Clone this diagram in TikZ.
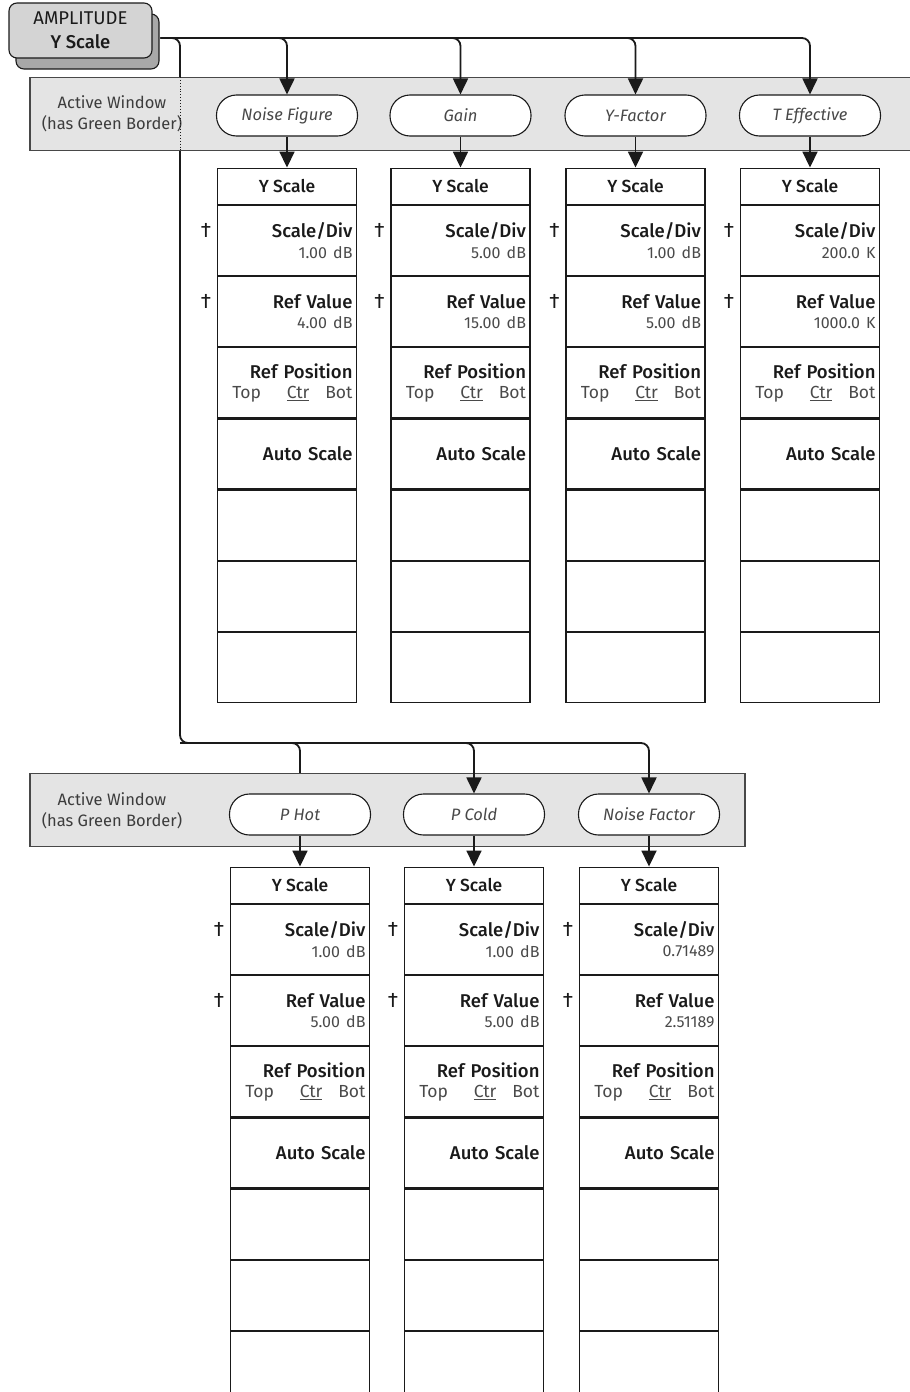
\documentclass[tikz,border=0pt]{standalone}
\usepackage{fontspec}
\setmainfont{Fira Sans}[BoldFont={Fira Sans Medium}]
\usetikzlibrary{arrows.meta,positioning,calc,shadows}
\definecolor{panelGray}{HTML}{E4E4E4}
\definecolor{keyGray}{HTML}{D4D4D4}
\definecolor{keyShade}{HTML}{A8A8A8}
\definecolor{inkBlack}{HTML}{1A1A1A}
\definecolor{valGray}{HTML}{4A4A4A}
\newcommand{\menuval}[1]{{\fontsize{16}{17}\selectfont\color{valGray}#1}}

\begin{document}
\begin{tikzpicture}[
  x=1pt, y=1pt,
  >={Triangle[length=16pt,width=15pt]},
  line width=1.3pt,
  every node/.style={inner sep=3pt, text=inkBlack},
  % --- Reusable styles -------------------------------------------------------
  hardkey/.style={               % front panel key with its grey side
    rectangle, rounded corners=8pt, draw=inkBlack, line width=1.1pt,
    fill=keyGray, minimum width=143pt, minimum height=55pt, align=center,
    font=\fontsize{18.5}{24}\selectfont,
    general shadow={fill=keyShade, draw=inkBlack, line width=1.1pt,
      shadow xshift=7pt, shadow yshift=-11pt},
  },
  window/.style={                % grey active window band
    rectangle, draw=inkBlack!80, line width=1.1pt, fill=panelGray,
    minimum height=73pt,
  },
  softkey/.style={               % rounded choice key
    rectangle, rounded corners=20pt, draw=inkBlack, line width=1.1pt,
    fill=white, minimum width=141pt, minimum height=41pt,
    font=\fontsize{16.5}{19}\selectfont\itshape, text=inkBlack!80,
  },
  menutitle/.style={
    rectangle, draw=inkBlack, line width=1.2pt,
    minimum width=139pt, minimum height=36pt,
    font=\fontsize{17.5}{20}\selectfont\bfseries,
  },
  menurow/.style={
    rectangle, draw=inkBlack, line width=1.2pt,
    minimum width=139pt, minimum height=70pt,
    text width=131pt, align=right, font=\fontsize{18.5}{20.5}\selectfont,
  },
  wintext/.style={align=center, font=\fontsize{16.5}{21}\selectfont, text=inkBlack!85},
  daggerlbl/.style={font=\fontsize{21}{22}\selectfont, inner sep=0pt},
  wire/.style={draw=inkBlack, line width=1.8pt},
  flow/.style={->, wire},
]
\useasboundingbox (0,0) rectangle (910,-1392);
\clip (0,0) rectangle (910,-1392);

% --- Active window bands -----------------------------------------------------
\node[window, minimum width=885pt] (panelA) at (472.5,-114) {};
\node[window, minimum width=715pt] (panelB) at (387.5,-810) {};
\node[wintext] (winA) at (112,-114) {Active Window\\(has Green Border)};
\node[wintext] (winB) at (112,-811) {Active Window\\(has Green Border)};

% --- Soft keys and their Y Scale menus ---------------------------------------
\foreach \nm/\lbl/\xc/\yc/\sdv/\rfv in {
    nf/Noise Figure/287/-115.5/1.00 dB/4.00 dB,
    gain/Gain/460.5/-115.5/5.00 dB/15.00 dB,
    yfac/Y-Factor/635.5/-115.5/1.00 dB/5.00 dB,
    teff/T Effective/810/-115.5/200.0 K/1000.0 K,
    phot/P Hot/300/-814.5/1.00 dB/5.00 dB,
    pcold/P Cold/474/-814.5/1.00 dB/5.00 dB,
    nfac/Noise Factor/649/-814.5/0.71489/2.51189} {
  \node[softkey] (\nm) at (\xc,\yc) {\lbl};
  \node[menutitle, below=31pt of \nm] (\nm-t) {Y Scale};
  \node[menurow, below=0pt of \nm-t] (\nm-1) {\textbf{Scale/Div}\\\menuval{\sdv}};
  \node[menurow, below=0pt of \nm-1] (\nm-2) {\textbf{Ref Value}\\\menuval{\rfv}};
  \node[menurow, below=0pt of \nm-2] (\nm-3)
    {\textbf{Ref Position}\\{\fontsize{17.5}{20}\selectfont\color{valGray}Top\hspace{26pt}\underline{Ctr}\hspace{16pt}Bot}};
  \node[menurow, below=0pt of \nm-3] (\nm-4) {\textbf{Auto Scale}};
  \node[menurow, below=0pt of \nm-4] (\nm-5) {};
  \node[menurow, below=0pt of \nm-5] (\nm-6) {};
  \node[menurow, below=0pt of \nm-6] (\nm-7) {};
  \node[daggerlbl] (\nm-d1) at ($(\nm-1.west)+(-11,10)$) {†};
  \node[daggerlbl] (\nm-d2) at ($(\nm-2.west)+(-11,10)$) {†};
  \draw[flow] (\nm) -- (\nm-t);
}

% --- Hard key and the tree of branches ---------------------------------------
\node[hardkey] (key) at (80.5,-30.5) {AMPLITUDE\\\textbf{Y Scale}};
\coordinate (trunkA) at ($(key.east)+(8,-7.5)$);
\coordinate (spineX) at (180,0);
\coordinate (elbowB) at (180,-743);

\foreach \nm in {nf,gain,yfac,teff}
  \draw[flow, rounded corners=8pt] (trunkA) -| (\nm.north);

\draw[wire, rounded corners=8pt] (trunkA) -| (panelA.north -| spineX);
\draw[wire, line width=0.9pt, dotted] (panelA.north -| spineX) -- (panelA.south -| spineX);
\draw[flow, rounded corners=8pt] (panelA.south -| spineX) -- (elbowB) -| (nfac.north);
\draw[flow, rounded corners=8pt] (elbowB) -| (pcold.north);
\draw[wire, rounded corners=8pt] (elbowB) -| (panelB.north -| phot.north);

\end{tikzpicture}
\end{document}
